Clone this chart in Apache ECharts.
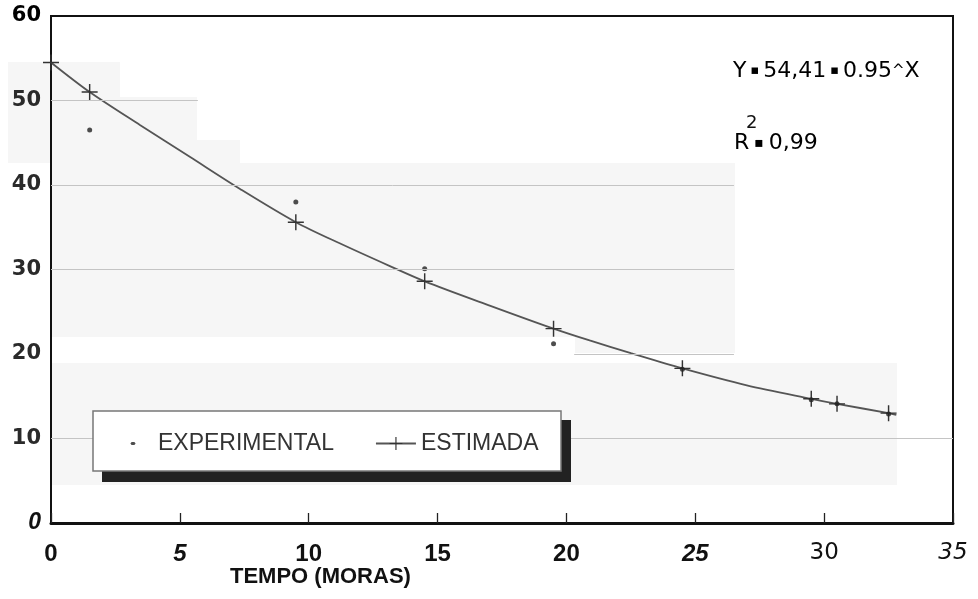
<!DOCTYPE html>
<html><head><meta charset="utf-8">
<script src="https://cdn.jsdelivr.net/npm/echarts@6/dist/echarts.min.js"></script>
<style>html,body{margin:0;padding:0;background:#fff}#c{width:978px;height:599px}</style>
</head><body><div id="c"></div>
<script>
// ---- data ----
const xTicks = [0, 5, 10, 15, 20, 25, 30, 35];
const italicXLabels = [5, 25, 35];
const regularXLabels = [30, 35];
const yTicks = [0, 10, 20, 30, 40, 50, 60];
// experimental points (TEMPO in moras)
const tempo = [1.5, 9.5, 14.5, 19.5, 24.5, 29.5, 30.5, 32.5];
const experimental = [46.5, 38.0, 30.1, 21.2, 18.2, 14.6, 14.1, 12.9];
// estimated curve
const curveX = [0, 1.5, 3.45, 5.4, 7.35, 9.5, 11.2, 13.15, 14.5, 17.05, 19.5, 20.9, 22.5, 24.5, 27, 29.5, 30.5, 32.5, 32.8];
const curveY = [54.5, 51.0, 47.1, 43.3, 39.5, 35.6, 33.1, 30.4, 28.6, 25.7, 23.0, 21.6, 20.1, 18.3, 16.3, 14.7, 14.1, 13.0, 12.8];
const crossX = [0, 1.5, 9.5, 14.5, 19.5, 24.5, 29.5, 30.5, 32.5];
const seriesNames = ['EXPERIMENTAL', 'ESTIMADA'];
const xAxisTitle = 'TEMPO (MORAS)';

// ---- chart ----
const crossPath = 'path://M0,9.1H20V10.9H0ZM9.1,0H10.9V20H9.1Z';
const dotIcon = 'path://M0,0M40,16M18.6,6.4L21.4,6.4L22.6,8L21.4,9.6L18.6,9.6L17.4,8Z';
const gridColor = '#c4c4c4';
const gridSegments = [[0, 5.7, 50], [0, 26.5, 40], [0, 26.5, 30], [20.3, 26.5, 20], [0, 35, 10]];
const patchColor = '#f6f6f6';

const chart = echarts.init(document.getElementById('c'), null, {renderer: 'canvas'});
const option = {
  animation: false,
  backgroundColor: '#ffffff',
  grid: {left: 51, right: 25, top: 16, bottom: 76, show: true, borderColor: '#111', borderWidth: 2, backgroundColor: 'transparent'},
  xAxis: {
    type: 'value', min: xTicks[0], max: xTicks[xTicks.length - 1], interval: 5,
    axisLine: {show: true, lineStyle: {color: '#111', width: 3}},
    axisTick: {show: true, inside: true, length: 10, lineStyle: {color: '#222', width: 1.3}},
    splitLine: {show: false},
    axisLabel: {
      margin: 19,
      formatter: v => {
        const key = (regularXLabels.includes(v) ? 'r' : 'b') + (italicXLabels.includes(v) ? 'i' : 'n');
        return '{' + key + '|' + v + '}';
      },
      rich: {
        bn: {fontFamily: 'Liberation Sans', fontWeight: 'bold', fontSize: 24, color: '#111'},
        bi: {fontFamily: 'Liberation Sans', fontWeight: 'bold', fontStyle: 'italic', fontSize: 24, color: '#111'},
        rn: {fontFamily: 'DejaVu Sans', fontSize: 23, color: '#111'},
        ri: {fontFamily: 'DejaVu Sans', fontStyle: 'italic', fontSize: 23, color: '#111'}
      }
    }
  },
  yAxis: {
    type: 'value', min: yTicks[0], max: yTicks[yTicks.length - 1], interval: 10,
    axisLine: {show: true, lineStyle: {color: '#111', width: 2}},
    axisTick: {show: false},
    splitLine: {show: false},
    axisLabel: {
      margin: 10,
      formatter: v => v === 0 ? '{z|0}' : (v === 60 ? '{t|60}' : '{n|' + v + '}'),
      rich: {
        z: {fontFamily: 'Liberation Sans', fontStyle: 'italic', fontWeight: 'bold', fontSize: 23, color: '#111'},
        t: {fontFamily: 'DejaVu Sans', fontWeight: 'bold', fontSize: 21, color: '#000'},
        n: {fontFamily: 'DejaVu Sans', fontWeight: 'bold', fontSize: 21, color: '#2a2a2a'}
      }
    }
  },
  legend: {
    left: 93, top: 411, orient: 'horizontal', z: 8,
    data: [{name: seriesNames[0], icon: dotIcon}, {name: seriesNames[1]}],
    itemWidth: 40, itemHeight: 16, itemGap: 41,
    padding: [21, 21, 15, 20],
    textStyle: {fontFamily: 'Liberation Sans', fontSize: 23, color: '#333'},
    selectedMode: false
  },
  series: [
    {
      name: seriesNames[1], type: 'line', smooth: 0.3,
      symbol: crossPath, symbolSize: 16, showAllSymbol: true,
      data: curveX.map((x, i) => ({value: [x, curveY[i]], symbol: crossX.includes(x) ? crossPath : 'none'})),
      itemStyle: {color: '#333'},
      lineStyle: {color: '#555', width: 1.8},
      markLine: {
        silent: true, symbol: 'none', label: {show: false},
        lineStyle: {color: gridColor, width: 1, type: 'solid'},
        data: gridSegments.map(s => [{coord: [s[0], s[2]]}, {coord: [s[1], s[2]]}])
      },
      z: 3
    },
    {
      name: seriesNames[0], type: 'scatter',
      symbol: 'circle', symbolSize: 5,
      data: tempo.map((x, i) => [x, experimental[i]]),
      itemStyle: {color: '#222'},
      z: 4
    }
  ],
  graphic: [
    // faint scan patches
    {type: 'rect', z: -10, shape: {x: 8, y: 62, width: 112, height: 35}, style: {fill: patchColor}},
    {type: 'rect', z: -10, shape: {x: 8, y: 97, width: 189, height: 43}, style: {fill: patchColor}},
    {type: 'rect', z: -10, shape: {x: 8, y: 140, width: 232, height: 23}, style: {fill: patchColor}},
    {type: 'rect', z: -10, shape: {x: 50, y: 163, width: 685, height: 174}, style: {fill: patchColor}},
    {type: 'rect', z: -10, shape: {x: 575, y: 337, width: 160, height: 16}, style: {fill: patchColor}},
    {type: 'rect', z: -10, shape: {x: 50, y: 363, width: 847, height: 122}, style: {fill: patchColor}},
    // legend frame with shadow
    {type: 'rect', z: 6, shape: {x: 102, y: 420, width: 469, height: 62}, style: {fill: '#222'}},
    {type: 'rect', z: 7, shape: {x: 93, y: 411, width: 468, height: 60}, style: {fill: '#fff', stroke: '#777', lineWidth: 1.5}},
    // annotations
    {type: 'text', left: 733, top: 60, z: 9, style: {
      text: '{a|Y}{s|\u25AA}{a|54,41}{s|\u25AA}{a|0.95}{c|^}{a|X}',
      rich: {
        a: {fontFamily: 'DejaVu Sans', fontSize: 22, color: '#5a5a5a', verticalAlign: 'middle', lineHeight: 26},
        s: {fontFamily: 'DejaVu Sans', fontSize: 13, color: '#5a5a5a', verticalAlign: 'middle', lineHeight: 26, padding: [0, 4]},
        c: {fontFamily: 'DejaVu Sans', fontSize: 15, color: '#5a5a5a', verticalAlign: 'middle', lineHeight: 26}
      }
    }},
    {type: 'text', left: 746, top: 114, z: 9, style: {text: '2', font: '18px "DejaVu Sans"', fill: '#111'}},
    {type: 'text', left: 734, top: 132, z: 9, style: {
      text: '{a|R}{s|\u25AA}{a|0,99}',
      rich: {
        a: {fontFamily: 'DejaVu Sans', fontSize: 22, color: '#111', verticalAlign: 'middle', lineHeight: 26},
        s: {fontFamily: 'DejaVu Sans', fontSize: 14, color: '#111', verticalAlign: 'middle', lineHeight: 26, padding: [0, 5]}
      }
    }},
    {type: 'text', left: 230, top: 566, z: 9, style: {text: xAxisTitle, font: 'bold 22px "Liberation Sans"', fill: '#111'}}
  ]
};
chart.setOption(option);
</script>
</body></html>
